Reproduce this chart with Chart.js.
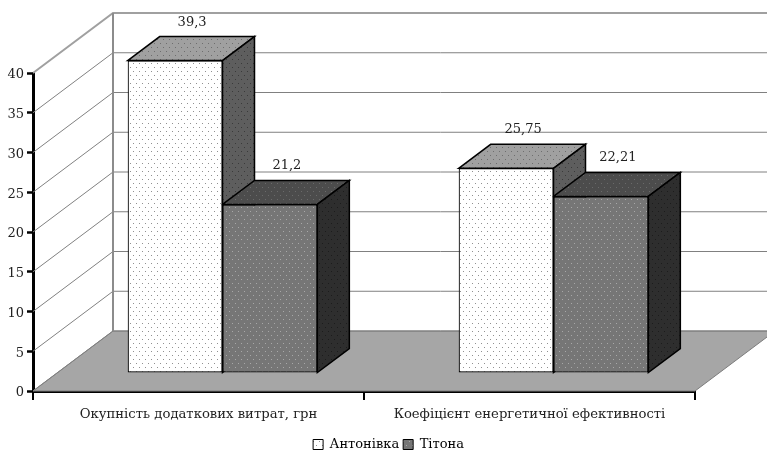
<!DOCTYPE html>
<html>
<head>
<meta charset="utf-8">
<title>Chart</title>
<script src="https://cdn.jsdelivr.net/npm/chart.js@4"></script>
<style>
  html, body { margin: 0; padding: 0; background: #fff; }
  canvas { display: block; }
</style>
</head>
<body>
<canvas id="chart" width="767" height="450"></canvas>
<script>
// Chart data
const categories = ['Окупність додаткових витрат, грн', 'Коефіцієнт енергетичної ефективності'];
const seriesNames = ['Антонівка', 'Тітона'];
const antonivka = [39.3, 25.75];
const titona = [21.2, 22.21];
const yTicks = [0, 5, 10, 15, 20, 25, 30, 35, 40];

const FONT = '"DejaVu Serif", serif';

// 3D look: the box depth and the offset of the bars from the front edge of the floor
const WALL_DX = 80, WALL_DY = -60;
const BAR_SHIFT_X = 24, BAR_SHIFT_Y = -18;
const BAR_DX = 32, BAR_DY = -24;

// Dotted fill used by the bars
function dots(bg, fg) {
    const c = document.createElement('canvas');
    c.width = 6;
    c.height = 8;
    const g = c.getContext('2d');
    g.fillStyle = bg;
    g.fillRect(0, 0, 6, 8);
    g.fillStyle = fg;
    g.fillRect(1, 1, 1, 1);
    g.fillRect(4, 5, 1, 1);
    return g.createPattern(c, 'repeat');
}

const faces = [
    { front: dots('#ffffff', '#909090'), top: dots('#a0a0a0', '#6e6e6e'), side: dots('#5e5e5e', '#3a3a3a') },
    { front: dots('#767676', '#a8a8a8'), top: dots('#4c4c4c', '#6a6a6a'), side: dots('#2e2e2e', '#1c1c1c') }
];

function poly(ctx, pts, fill, stroke, width) {
    ctx.beginPath();
    pts.forEach((p, i) => i ? ctx.lineTo(p[0], p[1]) : ctx.moveTo(p[0], p[1]));
    ctx.closePath();
    if (fill) {
        ctx.fillStyle = fill;
        ctx.fill();
    }
    if (stroke) {
        ctx.strokeStyle = stroke;
        ctx.lineWidth = width;
        ctx.stroke();
    }
}

function drawBarFaces(chart, index) {
    const { ctx } = chart;
    const f = faces[index];
    ctx.save();
    ctx.translate(BAR_SHIFT_X, BAR_SHIFT_Y);
    chart.getDatasetMeta(index).data.forEach(bar => {
        const l = bar.x - bar.width / 2, r = bar.x + bar.width / 2;
        const t = bar.y, b = bar.base;
        poly(ctx, [[l, t], [l + BAR_DX, t + BAR_DY], [r + BAR_DX, t + BAR_DY], [r, t]], f.top, '#000', 1.5);
        poly(ctx, [[r, t], [r + BAR_DX, t + BAR_DY], [r + BAR_DX, b + BAR_DY], [r, b]], f.side, '#000', 1.5);
    });
    ctx.restore();
}

// Floor, walls and gridlines behind the bars
const wallPlugin = {
    id: 'walls',
    beforeDatasetsDraw(chart) {
        const { ctx, chartArea: a, scales } = chart;
        const y = scales.y;
        const x0 = a.left, x1 = a.right;
        const y0 = y.getPixelForValue(0);
        ctx.save();
        poly(ctx, [[x0, y0], [x0 + WALL_DX, y0 + WALL_DY], [x1 + WALL_DX, y0 + WALL_DY], [x1, y0]], '#a6a6a6', '#7c7c7c', 1);
        yTicks.forEach(v => {
            const py = y.getPixelForValue(v);
            ctx.strokeStyle = v === 40 ? '#a0a0a0' : '#808080';
            ctx.lineWidth = v === 40 ? 2 : 1;
            ctx.beginPath();
            ctx.moveTo(x0, py);
            ctx.lineTo(x0 + WALL_DX, py + WALL_DY);
            ctx.lineTo(x1 + WALL_DX, py + WALL_DY);
            ctx.stroke();
        });
        ctx.strokeStyle = '#8c8c8c';
        ctx.lineWidth = 2;
        ctx.beginPath();
        ctx.moveTo(x0 + WALL_DX, y.getPixelForValue(40) + WALL_DY);
        ctx.lineTo(x0 + WALL_DX, y0 + WALL_DY);
        ctx.stroke();
        ctx.restore();
        // the library paints the last dataset first, so the left bars' faces go down here
        drawBarFaces(chart, 0);
    },
    beforeDatasetDraw(chart, args) {
        if (args.index === 1) {
            drawBarFaces(chart, 1);
        }
        chart.ctx.save();
        chart.ctx.translate(BAR_SHIFT_X, BAR_SHIFT_Y);
    },
    afterDatasetDraw(chart) {
        chart.ctx.restore();
    },
    afterDatasetsDraw(chart) {
        const { ctx } = chart;
        ctx.save();
        ctx.font = '13px ' + FONT;
        ctx.fillStyle = '#222';
        ctx.textAlign = 'center';
        ctx.textBaseline = 'alphabetic';
        chart.data.datasets.forEach((ds, i) => {
            chart.getDatasetMeta(i).data.forEach((bar, j) => {
                const label = String(ds.data[j]).replace('.', ',');
                ctx.fillText(label, bar.x + BAR_SHIFT_X + 17, bar.y + BAR_SHIFT_Y - 35);
            });
        });
        ctx.restore();
    },
    // move the legend under the middle of the picture
    afterLayout(chart) {
        chart.legend.left += 41;
        chart.legend.right += 41;
        chart.legend.top += 11;
        chart.legend.bottom += 11;
    }
};

new Chart(document.getElementById('chart'), {
    type: 'bar',
    data: {
        labels: categories,
        datasets: [
            { label: seriesNames[0], data: antonivka, backgroundColor: faces[0].front, borderColor: '#000', borderWidth: 1.2, borderSkipped: false },
            { label: seriesNames[1], data: titona, backgroundColor: faces[1].front, borderColor: '#000', borderWidth: 1.2, borderSkipped: false }
        ]
    },
    options: {
        responsive: false,
        animation: false,
        categoryPercentage: 0.573,
        barPercentage: 1,
        layout: { padding: { left: 0, right: 72, top: 73, bottom: 0 } },
        scales: {
            x: {
                grid: { drawOnChartArea: false, color: '#000', tickColor: '#000', tickLength: 9, lineWidth: 2 },
                border: { color: '#000', width: 3 },
                ticks: { color: '#222', font: { family: FONT, size: 13.2 }, padding: 7, maxRotation: 0, autoSkip: false },
                afterFit(scale) { scale.height = 32; }
            },
            y: {
                min: 0,
                max: 40,
                afterBuildTicks(scale) { scale.ticks = yTicks.map(v => ({ value: v })); },
                grid: { drawOnChartArea: false, tickColor: '#000', tickLength: 6, tickWidth: 2.5 },
                border: { color: '#000', width: 3 },
                ticks: { color: '#222', font: { family: FONT, size: 13 }, padding: 3, labelOffset: 2 },
                afterFit(scale) { scale.width = 33; }
            }
        },
        plugins: {
            legend: {
                position: 'bottom',
                labels: {
                    color: '#222',
                    font: { family: FONT, size: 13 },
                    boxWidth: 10,
                    boxHeight: 10,
                    padding: 4,
                    generateLabels(chart) {
                        return chart.data.datasets.map((ds, i) => ({
                            text: ds.label,
                            fillStyle: ds.backgroundColor,
                            strokeStyle: '#000',
                            lineWidth: 1,
                            datasetIndex: i
                        }));
                    }
                }
            },
            tooltip: { enabled: false }
        }
    },
    plugins: [wallPlugin]
});
</script>
</body>
</html>
